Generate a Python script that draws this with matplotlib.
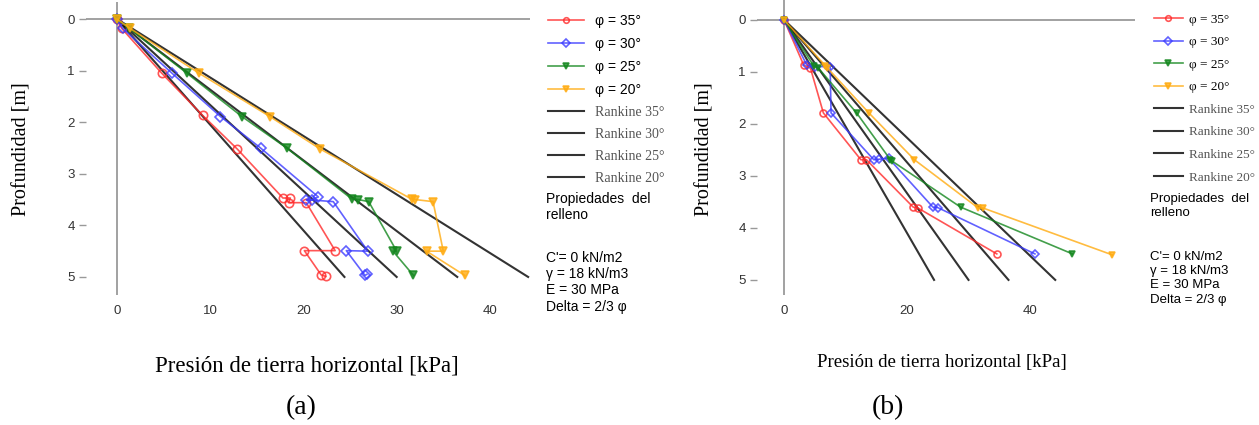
"""
Horizontal earth pressure vs depth, two cases (a) and (b)
"""

import matplotlib
matplotlib.use("Agg")
import matplotlib.pyplot as plt

# panel (a) data: pressure [kPa] vs depth [m]
a35_x = [0, 0.5, 4.8, 9.2, 12.9, 17.8, 18.6, 18.4, 20.3, 23.4, 20.1, 21.9, 22.4]
a35_y = [0, 0.18, 1.05, 1.87, 2.52, 3.47, 3.47, 3.56, 3.56, 4.49, 4.49, 4.96, 4.99]
a30_x = [0, 0.6, 5.9, 11.1, 15.4, 21.6, 20.9, 20.3, 23.2, 26.9, 24.6, 26.6, 26.8]
a30_y = [0, 0.18, 1.05, 1.89, 2.5, 3.45, 3.5, 3.5, 3.54, 4.5, 4.49, 4.97, 4.95]
a25_x = [0, 1.3, 7.5, 13.4, 18.2, 25.2, 25.9, 27.0, 30.0, 29.6, 31.8]
a25_y = [0, 0.18, 1.05, 1.89, 2.5, 3.49, 3.5, 3.54, 4.5, 4.5, 4.97]
a20_x = [0, 1.4, 8.8, 16.4, 21.8, 31.6, 32.0, 33.9, 35.0, 33.2, 37.3]
a20_y = [0, 0.18, 1.05, 1.89, 2.52, 3.49, 3.5, 3.54, 4.5, 4.5, 4.97]

# panel (b) data
b35_x = [0, 3.2, 4.3, 6.4, 12.5, 13.4, 21.0, 21.8, 34.6]
b35_y = [0, 0.87, 0.93, 1.79, 2.69, 2.69, 3.6, 3.62, 4.5]
b30_x = [0, 3.7, 5.0, 7.5, 7.65, 14.6, 15.5, 17.0, 24.2, 25.0, 40.8]
b30_y = [0, 0.87, 0.9, 0.9, 1.79, 2.69, 2.68, 2.66, 3.6, 3.61, 4.5]
b25_x = [0, 4.8, 5.6, 11.8, 17.3, 17.5, 28.7, 46.9]
b25_y = [0, 0.88, 0.93, 1.79, 2.69, 2.71, 3.6, 4.5]
b20_x = [0, 6.7, 7.0, 13.8, 21.2, 31.6, 32.4, 53.4]
b20_y = [0, 0.88, 0.92, 1.79, 2.69, 3.62, 3.62, 4.52]

# Rankine active pressure lines: from surface to 5 m
rankine_depth = [0, 5]
rankine_end = [24.4, 30.0, 36.5, 44.1]
rankine_labels = ['Rankine 35°', 'Rankine 30°', 'Rankine 25°', 'Rankine 20°']

phi_labels = ['φ = 35°', 'φ = 30°', 'φ = 25°', 'φ = 20°']
colors = ['#ff2a2a', '#3a3aff', '#14871e', '#ffab10']
markers = ['o', 'D', 'v', 'v']
filled = [False, False, True, True]

props_title = 'Propiedades  del\nrelleno'
props_text = "C'= 0 kN/m2\nγ = 18 kN/m3\nE = 30 MPa\nDelta = 2/3 φ"

W, H = 1259, 425


def px_axes(fig, left, right, top, bottom):
    "Add axes given pixel edges."
    return fig.add_axes([left / W, 1 - bottom / H, (right - left) / W, (bottom - top) / H])


def draw_panel(ax, series, xlim, ylim, xticks, msize):
    "Plot measured curves, Rankine lines and the crossing axes."
    for (xs, ys), lab, c, m, f in zip(series, phi_labels, colors, markers, filled):
        ax.plot(xs, ys, color=c, lw=1.2, alpha=0.8, marker=m, ms=msize if m != 'D' else msize - 1,
                mfc=c if f else 'none', mec=c, mew=1.2, label=lab, zorder=3)
    for xe, lab in zip(rankine_end, rankine_labels):
        ax.plot([0, xe], rankine_depth, color='black', lw=1.5, alpha=0.8, label=lab, zorder=2)

    ax.axhline(0, color='#888888', lw=1.1, zorder=1)
    ax.axvline(0, color='#888888', lw=1.1, zorder=1)
    ax.set_xlim(xlim)
    ax.set_ylim(ylim)
    for s in ax.spines.values():
        s.set_visible(False)
    ax.set_xticks(xticks)
    ax.set_yticks(range(6))
    ax.tick_params(axis='x', length=0, pad=7, labelsize=9.5, labelcolor='#333333')
    ax.tick_params(axis='y', length=5, width=1, color='#999999', pad=3,
                   labelsize=9.5, labelcolor='#333333')
    for lab in ax.get_xticklabels() + ax.get_yticklabels():
        lab.set_fontfamily('Liberation Sans')


def add_legend(fig, ax, x, y, size, phi_family, hl, pad, spacing):
    leg = ax.legend(loc='upper left', bbox_to_anchor=(x / W, 1 - y / H),
                    bbox_transform=fig.transFigure, frameon=False, fontsize=size,
                    handlelength=hl, handletextpad=pad, labelspacing=spacing, borderpad=0)
    for i, t in enumerate(leg.get_texts()):
        if i < 4:
            t.set_fontfamily(phi_family)
        else:
            t.set_fontfamily('Liberation Serif')
            t.set_color('#555555')
    for h in leg.legend_handles[:4]:
        h.set_markersize(4)
    return leg


plt.rcParams['font.family'] = ['Liberation Sans', 'DejaVu Sans']
fig = plt.figure(figsize=(W / 100, H / 100), dpi=100)

# panel (a)
ax_a = px_axes(fig, 86, 530, 2, 295)
draw_panel(ax_a, [(a35_x, a35_y), (a30_x, a30_y), (a25_x, a25_y), (a20_x, a20_y)],
           (-3.32, 44.3), (5.35, -0.33), [0, 10, 20, 30, 40], 6)
add_legend(fig, ax_a, 541, 7, 10, 'Liberation Sans', 2.6, 0.8, 0.65)
fig.text(546 / W, 1 - 192 / H, props_title, fontsize=10, va='top', linespacing=1.2)
fig.text(546 / W, 1 - 251 / H, props_text, fontsize=10, va='top', linespacing=1.2,
         family=['Liberation Sans', 'DejaVu Sans'])
fig.text(22 / W, 1 - 149 / H, 'Profundidad [m]', rotation=90, ha='center', va='center',
         fontsize=14.5, family='Liberation Serif')
fig.text(307 / W, 1 - 366 / H, 'Presión de tierra horizontal [kPa]', ha='center', va='center',
         fontsize=16.5, family='Liberation Serif')
fig.text(301 / W, 1 - 408 / H, '(a)', ha='center', va='center', fontsize=20,
         family='Liberation Serif')

# panel (b)
ax_b = px_axes(fig, 757, 1135, 0, 295)
draw_panel(ax_b, [(b35_x, b35_y), (b30_x, b30_y), (b25_x, b25_y), (b20_x, b20_y)],
           (-4.39, 57.07), (5.29, -0.38), [0, 20, 40], 5)
add_legend(fig, ax_b, 1147, 7, 9.5, 'Liberation Serif', 2.2, 0.45, 0.78)
fig.text(1150 / W, 1 - 193 / H, props_title, fontsize=9.5, va='top', linespacing=1.25)
fig.text(1150 / W, 1 - 251 / H, props_text, fontsize=9.5, va='top', linespacing=1.25,
         family=['Liberation Sans', 'DejaVu Sans'])
fig.text(705 / W, 1 - 149 / H, 'Profundidad [m]', rotation=90, ha='center', va='center',
         fontsize=14.5, family='Liberation Serif')
fig.text(942 / W, 1 - 363 / H, 'Presión de tierra horizontal [kPa]', ha='center', va='center',
         fontsize=13.5, family='Liberation Serif')
fig.text(888 / W, 1 - 408 / H, '(b)', ha='center', va='center', fontsize=20,
         family='Liberation Serif')

fig.savefig('out.png', dpi=100)
